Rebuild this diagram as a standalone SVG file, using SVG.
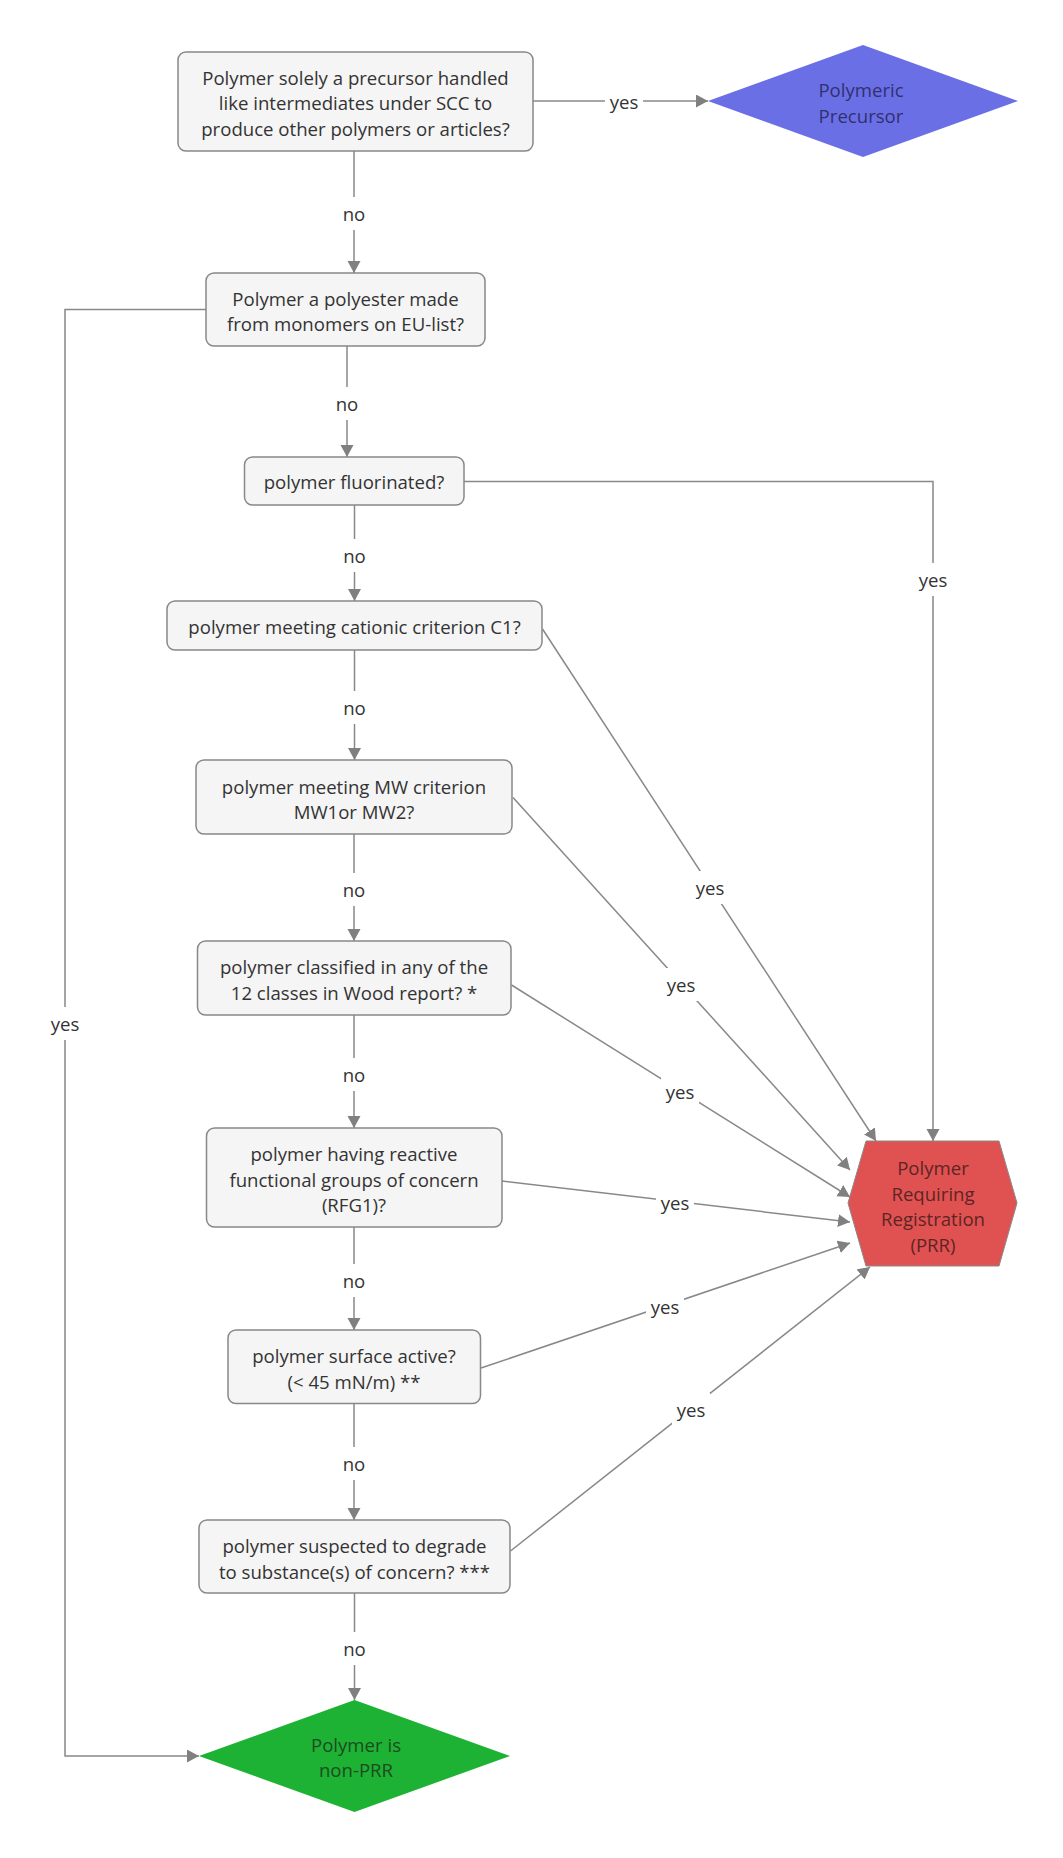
<svg xmlns="http://www.w3.org/2000/svg" width="1063" height="1858" viewBox="0 0 1063 1858">
<defs>
<marker id="arr" markerUnits="userSpaceOnUse" markerWidth="14" markerHeight="14" refX="12" refY="6.5" orient="auto" viewBox="0 0 14 14">
<path d="M0,0 L12,6.5 L0,13 z" fill="#808080"/>
</marker>
<style>
text{font-family:"Open Sans","Noto Sans","Liberation Sans",sans-serif;font-size:18.6px;fill:#333;text-anchor:middle;dominant-baseline:central}
.box{fill:#f5f5f5;stroke:#888;stroke-width:1.5}
.ln{fill:none;stroke:#888;stroke-width:1.5}
.a{marker-end:url(#arr)}
.lb{fill:#fff}
</style>
</defs>
<rect width="1063" height="1858" fill="#fff"/>
<g id="connectors">
<path class="ln a" d="M533,101 H708"/>
<path class="ln a" d="M354,151 V273"/>
<path class="ln a" d="M347,346 V457"/>
<path class="ln a" d="M354.5,505 V601"/>
<path class="ln a" d="M354.5,650 V760"/>
<path class="ln a" d="M354,834 V941"/>
<path class="ln a" d="M354,1015 V1128"/>
<path class="ln a" d="M354,1227 V1330"/>
<path class="ln a" d="M354,1403.5 V1520"/>
<path class="ln a" d="M354.5,1593 V1700"/>
<path class="ln a" d="M464,481.5 H933 V1141"/>
<path class="ln a" d="M206,309.5 H65 V1756 H199"/>
<path class="ln a" d="M542.5,629 L876,1141"/>
<path class="ln a" d="M513,797.5 L850,1170"/>
<path class="ln a" d="M511.5,985 L850,1197"/>
<path class="ln a" d="M502,1181 L850,1222"/>
<path class="ln a" d="M481,1368 L850,1243"/>
<path class="ln a" d="M510.5,1551 L870,1267"/>
<g id="labels">
<rect class="lb" x="605" y="90" width="38" height="22"/><text x="624" y="101">yes</text>
<rect class="lb" x="341" y="197" width="26" height="33"/><text x="354" y="213">no</text>
<rect class="lb" x="334" y="387" width="26" height="33"/><text x="347" y="403">no</text>
<rect class="lb" x="341.5" y="539" width="26" height="33"/><text x="354.5" y="555">no</text>
<rect class="lb" x="341.5" y="691" width="26" height="33"/><text x="354.5" y="707">no</text>
<rect class="lb" x="341" y="873" width="26" height="33"/><text x="354" y="889">no</text>
<rect class="lb" x="341" y="1058" width="26" height="33"/><text x="354" y="1074">no</text>
<rect class="lb" x="341" y="1264" width="26" height="33"/><text x="354" y="1280">no</text>
<rect class="lb" x="341" y="1447" width="26" height="33"/><text x="354" y="1463">no</text>
<rect class="lb" x="341.5" y="1632" width="26" height="33"/><text x="354.5" y="1648">no</text>
<rect class="lb" x="914" y="563" width="38" height="33"/><text x="933" y="579">yes</text>
<rect class="lb" x="46" y="1007" width="38" height="33"/><text x="65" y="1023">yes</text>
<rect class="lb" x="691" y="871" width="38" height="33"/><text x="710" y="887">yes</text>
<rect class="lb" x="662" y="968" width="38" height="33"/><text x="681" y="984">yes</text>
<rect class="lb" x="661" y="1075" width="38" height="33"/><text x="680" y="1091">yes</text>
<rect class="lb" x="656" y="1186" width="38" height="33"/><text x="675" y="1202">yes</text>
<rect class="lb" x="646" y="1290" width="38" height="33"/><text x="665" y="1306">yes</text>
<rect class="lb" x="672" y="1393" width="38" height="33"/><text x="691" y="1409">yes</text>
</g>
</g>
<g id="n-precursor-q">
<rect class="box" x="178" y="52" width="355" height="99" rx="8"/>
<text x="355.5" y="77">Polymer solely a precursor handled</text>
<text x="355.5" y="102.5">like intermediates under SCC to</text>
<text x="355.5" y="128">produce other polymers or articles?</text>
</g>
<g id="n-polymeric-precursor">
<polygon points="708,101 863,45 1018,101 863,157" fill="#6b6fe6"/>
<text x="861" y="89" style="fill:#2f3170">Polymeric</text>
<text x="861" y="115" style="fill:#2f3170">Precursor</text>
</g>
<g id="n-polyester">
<rect class="box" x="206" y="273" width="279" height="73" rx="8"/>
<text x="345.5" y="298">Polymer a polyester made</text>
<text x="345.5" y="323">from monomers on EU-list?</text>
</g>
<g id="n-fluorinated">
<rect class="box" x="244.5" y="457" width="219.5" height="48" rx="8"/>
<text x="354" y="481.5">polymer fluorinated?</text>
</g>
<g id="n-cationic">
<rect class="box" x="167" y="601" width="375" height="49" rx="8"/>
<text x="354.5" y="626.5">polymer meeting cationic criterion C1?</text>
</g>
<g id="n-mw">
<rect class="box" x="196" y="760" width="316" height="74" rx="8"/>
<text x="354" y="786">polymer meeting MW criterion</text>
<text x="354" y="811.5">MW1or MW2?</text>
</g>
<g id="n-wood">
<rect class="box" x="197.5" y="941" width="313.5" height="74" rx="8"/>
<text x="354" y="966.5">polymer classified in any of the</text>
<text x="354" y="992">12 classes in Wood report? *</text>
</g>
<g id="n-rfg">
<rect class="box" x="206.5" y="1128" width="295.5" height="99" rx="8"/>
<text x="354" y="1153">polymer having reactive</text>
<text x="354" y="1179">functional groups of concern</text>
<text x="354" y="1204.5">(RFG1)?</text>
</g>
<g id="n-surface">
<rect class="box" x="228" y="1330" width="252.5" height="73.5" rx="8"/>
<text x="354" y="1355">polymer surface active?</text>
<text x="354" y="1381">(&lt; 45 mN/m) **</text>
</g>
<g id="n-degrade">
<rect class="box" x="199" y="1520" width="311" height="73" rx="8"/>
<text x="354.5" y="1545">polymer suspected to degrade</text>
<text x="354.5" y="1571">to substance(s) of concern? ***</text>
</g>
<g id="n-non-prr">
<polygon points="199,1756 354.5,1700 510,1756 354.5,1812" fill="#1db233"/>
<text x="356" y="1744" style="fill:#1f4a22">Polymer is</text>
<text x="356" y="1769" style="fill:#1f4a22">non-PRR</text>
</g>
<g id="n-prr">
<polygon points="848,1203 866,1141 999,1141 1017,1203 999,1266 866,1266" fill="#e05252" stroke="#888" stroke-width="1"/>
<text x="933" y="1167" style="fill:#5e2424">Polymer</text>
<text x="933" y="1193" style="fill:#5e2424">Requiring</text>
<text x="933" y="1218" style="fill:#5e2424">Registration</text>
<text x="933" y="1244" style="fill:#5e2424">(PRR)</text>
</g>
</svg>
